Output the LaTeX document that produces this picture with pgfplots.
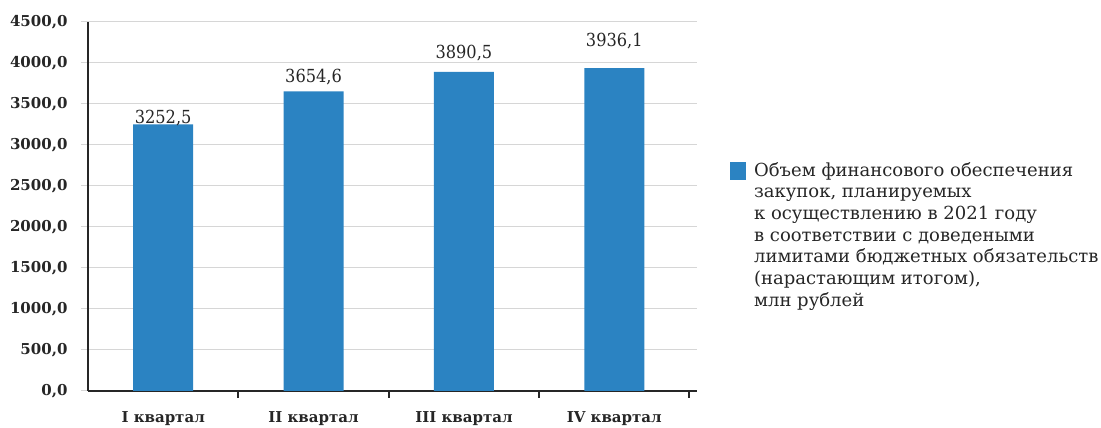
\documentclass[border=0pt]{standalone}
\usepackage{fontspec}
\setmainfont{DejaVu Serif}
\newfontfamily\condfont{DejaVu Serif Condensed}
\usepackage{pgfplots}
\usepackage{pgfplotstable}
\pgfplotsset{compat=1.18}
\definecolor{barblue}{HTML}{2B83C2}
\definecolor{gridgray}{HTML}{D6D6D6}
\definecolor{txt}{HTML}{262626}
\pgfplotstableread{
x y lab dy
0 3252.5 3252,5 1
1 3654.6 3654,6 9
2 3890.5 3890,5 13
3 3936.1 3936,1 22
}\datatable
\begin{document}
\begin{tikzpicture}[x=1pt,y=1pt]
\useasboundingbox (-88,-37) rectangle (1013,391);
\begin{axis}[
  at={(0,0)}, anchor=south west,
  scale only axis, width=609pt, height=369pt,
  xmin=-0.5, xmax=3.55, ymin=0, ymax=4500,
  ybar, bar width=60pt,
  axis x line*=bottom, axis y line*=left,
  axis line style={line width=1.6pt, color=black!85, -},
  xtick={0.5,1.5,2.5,3.5},
  xticklabels={},
  every major x tick/.append style={draw=black!85, line width=2pt},
  extra x ticks={0,1,2,3},
  extra x tick labels={I квартал, II квартал, III квартал, IV квартал},
  extra x tick style={every major x tick/.append style={draw=none}},
  tick align=outside,
  ytick={0,500,...,4500},
  every major y tick/.append style={draw=gridgray, line width=1pt},
  major tick length=7pt,
  ymajorgrids, major grid style={draw=gridgray, line width=1pt},
  /pgf/number format/.cd, fixed, fixed zerofill, precision=1, use comma, 1000 sep={}, assume math mode=true,
  /pgfplots/.cd,
  yticklabel style={font=\bfseries\fontsize{15}{15}\selectfont, color=txt, xshift=-10pt},
  xticklabel style={font=\bfseries\fontsize{15}{15}\selectfont, color=txt, yshift=-10pt},
  point meta=explicit symbolic,
  visualization depends on={\thisrow{dy} \as \dy},
  nodes near coords,
  every node near coord/.append style={anchor=base, yshift=\dy pt, inner sep=0pt, font=\condfont\fontsize{18}{18}\selectfont, color=txt},
  legend style={draw=none, fill=none, at={(1.054,0.624)}, anchor=north west,
    font=\fontsize{18}{21.7}\selectfont, text=txt, inner sep=0pt, nodes={inner sep=0pt}, column sep=8pt},
  legend cell align=left,
  legend image code/.code={\fill[barblue] (0pt,-11pt) rectangle (16pt,7pt);},
]
\addplot[fill=barblue, draw=none] table[x=x, y=y, meta=lab] {\datatable};
\addlegendentry{\begin{tabular}[t]{@{}l@{}}Объем финансового обеспечения\\ закупок, планируемых\\ к осуществлению в 2021 году\\ в соответствии с доведеными\\ лимитами бюджетных обязательств\\ (нарастающим итогом),\\ млн рублей\end{tabular}}
\end{axis}
\end{tikzpicture}
\end{document}
